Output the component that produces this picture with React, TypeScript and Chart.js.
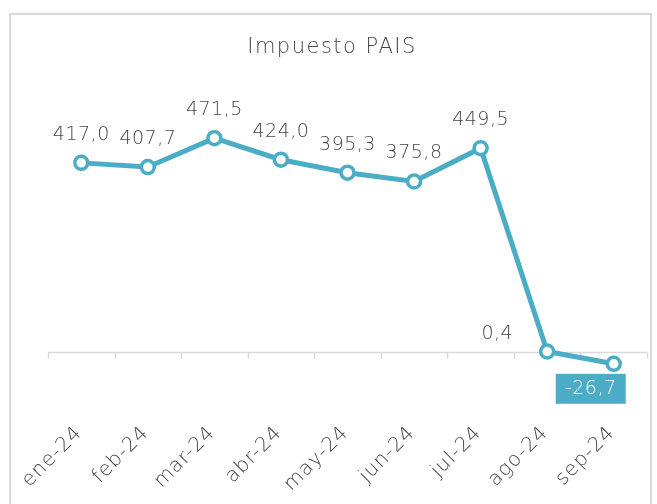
import React, { useEffect, useRef } from "react";
import { Chart, registerables } from "chart.js";

Chart.register(...registerables);

const categories = ["ene-24", "feb-24", "mar-24", "abr-24", "may-24", "jun-24", "jul-24", "ago-24", "sep-24"];
const values = [417.0, 407.7, 471.5, 424.0, 395.3, 375.8, 449.5, 0.4, -26.7];
const labelPlacement = ["above", "above", "above", "above", "above", "above", "above", "left", "boxBelow"];
const titleText = "Impuesto PAIS";

const TEAL = "#4bacc6";
const TEXT = "#454545";
const AXIS = "#d9d9d9";
const FONT = '"DejaVu Sans", sans-serif';

const fmt = (v: number) => v.toFixed(1).replace(".", ",");

const decorPlugin = {
  id: "decor",
  beforeDatasetsDraw(chart: any) {
    const { ctx, chartArea, scales } = chart;
    const x = scales.x;
    const y0 = Math.round(scales.y.getPixelForValue(0)) + 0.5;
    ctx.save();
    ctx.strokeStyle = AXIS;
    ctx.lineWidth = 1.5;
    ctx.beginPath();
    ctx.moveTo(chartArea.left, y0);
    ctx.lineTo(chartArea.right, y0);
    const n = categories.length;
    const w = (chartArea.right - chartArea.left) / n;
    for (let i = 0; i <= n; i++) {
      const tx = Math.round(chartArea.left + i * w) + 0.5;
      ctx.moveTo(tx, y0);
      ctx.lineTo(tx, y0 + 6);
    }
    ctx.stroke();
    // category labels
    ctx.fillStyle = TEXT;
    ctx.font = `300 20px ${FONT}`;
    (ctx as any).letterSpacing = "1px";
    ctx.textAlign = "right";
    ctx.textBaseline = "middle";
    categories.forEach((c, i) => {
      const px = x.getPixelForValue(i);
      ctx.save();
      ctx.translate(px - 2, 430);
      ctx.rotate(-Math.PI / 4);
      ctx.fillText(c, 0, 0);
      ctx.restore();
    });
    (ctx as any).letterSpacing = "0px";
    ctx.restore();
  },
  afterDatasetsDraw(chart: any) {
    const { ctx } = chart;
    const meta = chart.getDatasetMeta(0);
    ctx.save();
    ctx.font = `300 19px ${FONT}`;
    (ctx as any).letterSpacing = "0.5px";
    ctx.textBaseline = "middle";
    meta.data.forEach((pt: any, i: number) => {
      const txt = fmt(values[i]);
      const p = labelPlacement[i];
      if (p === "above") {
        ctx.fillStyle = TEXT;
        ctx.textAlign = "center";
        ctx.fillText(txt, pt.x, pt.y - 28);
      } else if (p === "left") {
        ctx.fillStyle = TEXT;
        ctx.textAlign = "right";
        ctx.fillText(txt, pt.x - 34, pt.y - 17);
      } else {
        const bx = pt.x - 58;
        const by = pt.y + 10;
        ctx.fillStyle = TEAL;
        ctx.fillRect(bx, by, 70, 30);
        ctx.fillStyle = "#ffffff";
        ctx.textAlign = "center";
        ctx.fillText(txt, bx + 35, by + 15);
      }
    });
    // title
    ctx.fillStyle = TEXT;
    ctx.font = `300 21px ${FONT}`;
    (ctx as any).letterSpacing = "1.5px";
    ctx.textAlign = "center";
    ctx.fillText(titleText, 332, 48);
    (ctx as any).letterSpacing = "0px";
    ctx.restore();
  },
};

export default function App() {
  const ref = useRef<HTMLCanvasElement | null>(null);
  useEffect(() => {
    if (!ref.current) return;
    const chart = new Chart(ref.current, {
      type: "line",
      data: {
        labels: categories,
        datasets: [
          {
            data: values,
            borderColor: TEAL,
            borderWidth: 5,
            pointRadius: 6.5,
            pointBorderWidth: 3.5,
            pointBackgroundColor: "#ffffff",
            pointBorderColor: TEAL,
            tension: 0,
            clip: false as any,
          },
        ],
      },
      options: {
        animation: false,
        responsive: false,
        devicePixelRatio: 1,
        layout: { padding: { left: 48, right: 7, top: 80, bottom: 107 } },
        plugins: { legend: { display: false }, tooltip: { enabled: false }, title: { display: false } },
        scales: {
          x: { display: false, offset: true },
          y: { display: false, min: -100, max: 600 },
        },
      },
      plugins: [decorPlugin],
    });
    return () => chart.destroy();
  }, []);

  return (
    <div style={{ position: "absolute", left: 0, top: 0, width: 657, height: 504, overflow: "hidden", background: "#fff" }}>
      <div
        style={{
          position: "absolute",
          left: 9,
          top: 13,
          width: 643,
          height: 491,
          boxSizing: "border-box",
          borderLeft: `2px solid ${AXIS}`,
          borderRight: `2px solid ${AXIS}`,
          borderTop: `2px solid ${AXIS}`,
        }}
      />
      <canvas ref={ref} width={657} height={504} style={{ position: "absolute", left: 0, top: 0, width: 657, height: 504 }} />
    </div>
  );
}
